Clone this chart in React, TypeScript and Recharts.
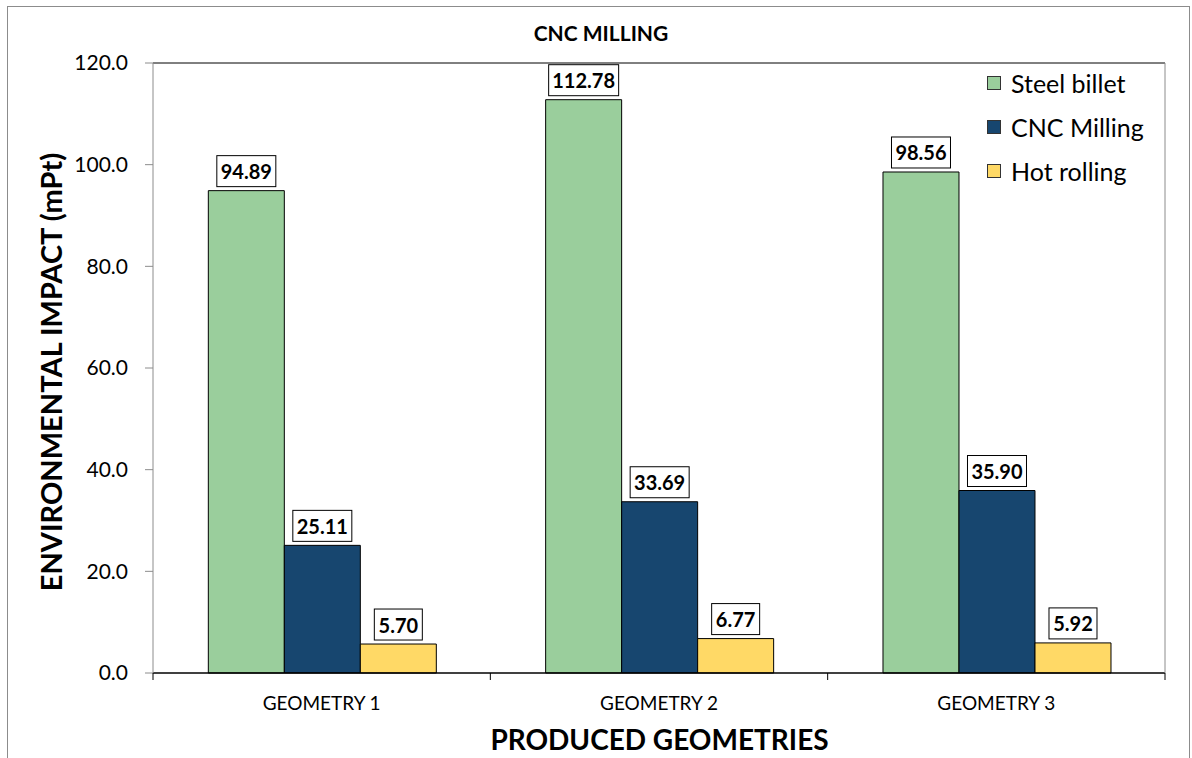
import React from 'react'
import {
  BarChart,
  Bar,
  XAxis,
  YAxis,
  Legend,
  LabelList,
  ReferenceLine,
} from 'recharts'

const categories = ['GEOMETRY 1', 'GEOMETRY 2', 'GEOMETRY 3']
const steelBillet = [94.89, 112.78, 98.56]
const cncMilling = [25.11, 33.69, 35.9]
const hotRolling = [5.7, 6.77, 5.92]
const yTicks = [0, 20, 40, 60, 80, 100, 120]

const SERIES = [
  { key: 'steel', name: 'Steel billet', color: '#9ACE9C' },
  { key: 'cnc', name: 'CNC Milling', color: '#17466F' },
  { key: 'hot', name: 'Hot rolling', color: '#FFD966' },
]

const FONT = 'Lato, "Open Sans", sans-serif'

const data = categories.map((name, i) => ({
  name,
  steel: steelBillet[i],
  cnc: cncMilling[i],
  hot: hotRolling[i],
}))

// boxed value label sitting just above each bar
function BoxLabel(props: any) {
  const { x, y, width, value } = props
  const text = Number(value).toFixed(2)
  const w = text.length * 11 + 4
  const h = 31
  const cx = x + width / 2
  const bottom = y - 4
  return (
    <g>
      <rect x={cx - w / 2} y={bottom - h} width={w} height={h} fill="#fff" stroke="#000" strokeWidth={1} />
      <text
        x={cx}
        y={bottom - h / 2}
        textAnchor="middle"
        dominantBaseline="central"
        fontFamily={FONT}
        fontWeight={700}
        fontSize={20}
        fill="#000"
      >
        {text}
      </text>
    </g>
  )
}

// category label plus tick marks on the band edges
function CategoryTick(props: any) {
  const { x, y, payload, index } = props
  const half = payload.offset || 0
  const axisY = y - 24
  return (
    <g>
      <line x1={x - half} x2={x - half} y1={axisY} y2={axisY + 7} stroke="#000" />
      {index === categories.length - 1 && (
        <line x1={x + half} x2={x + half} y1={axisY} y2={axisY + 7} stroke="#000" />
      )}
      <text x={x} y={y} dy="0.71em" textAnchor="middle" fontFamily={FONT} fontSize={19} fill="#000">
        {payload.value}
      </text>
    </g>
  )
}

function LegendBox() {
  return (
    <div style={{ fontFamily: FONT, fontSize: 25, color: '#000' }}>
      {SERIES.map((s) => (
        <div key={s.key} style={{ display: 'flex', alignItems: 'center', height: 44 }}>
          <span
            style={{
              display: 'inline-block',
              width: 12,
              height: 12,
              background: s.color,
              border: '1px solid #333',
              marginRight: 10,
            }}
          />
          {s.name}
        </div>
      ))}
    </div>
  )
}

export default function App() {
  return (
    <div style={{ position: 'absolute', top: 0, left: 0, width: 1192, height: 758, background: '#fff', overflow: 'hidden' }}>
      <div
        style={{
          position: 'absolute',
          left: 7,
          top: 6,
          width: 1181,
          height: 780,
          border: '1px solid #8c8c8c',
        }}
      />
      <BarChart
        width={1192}
        height={758}
        data={data}
        margin={{ top: 63, right: 26, bottom: 34, left: 73 }}
        barCategoryGap="16.4%"
        barGap={0}
        style={{ position: 'absolute', top: 0, left: 0 }}
      >
        <XAxis
          dataKey="name"
          tickLine={false}
          axisLine={{ stroke: '#000', strokeWidth: 1.5 }}
          tickMargin={18}
          height={51}
          tick={<CategoryTick />}
        />
        <YAxis
          domain={[0, 120]}
          ticks={yTicks}
          width={80}
          tickSize={8}
          tickMargin={17}
          tickFormatter={(v: number) => v.toFixed(1)}
          axisLine={{ stroke: '#8c8c8c' }}
          tickLine={{ stroke: '#8c8c8c' }}
          tick={{ fontFamily: FONT, fontSize: 21, fill: '#000' }}
        />
        <YAxis
          yAxisId="r"
          orientation="right"
          width={1}
          tick={false}
          tickLine={false}
          axisLine={{ stroke: '#8c8c8c' }}
        />
        <ReferenceLine y={120} stroke="#000" strokeWidth={1} />
        <Legend
          content={<LegendBox />}
          layout="horizontal"
          verticalAlign="middle"
          align="center"
          wrapperStyle={{ top: 61, left: 987, width: 200, height: 132 }}
        />
        {SERIES.map((s) => (
          <Bar
            key={s.key}
            dataKey={s.key}
            name={s.name}
            fill={s.color}
            stroke="#000"
            strokeWidth={1}
            isAnimationActive={false}
          >
            <LabelList dataKey={s.key} content={<BoxLabel />} />
          </Bar>
        ))}
      </BarChart>
      <div
        style={{
          position: 'absolute',
          top: 20,
          left: 0,
          width: 1202,
          textAlign: 'center',
          fontFamily: FONT,
          fontWeight: 700,
          fontSize: 21,
          color: '#000',
        }}
      >
        CNC MILLING
      </div>
      <div
        style={{
          position: 'absolute',
          top: 722,
          left: 153,
          width: 1013,
          textAlign: 'center',
          fontFamily: FONT,
          fontWeight: 700,
          fontSize: 28,
          color: '#000',
        }}
      >
        PRODUCED GEOMETRIES
      </div>
      <div
        style={{
          position: 'absolute',
          left: 50,
          top: 372,
          transform: 'translate(-50%, -50%) rotate(-90deg)',
          whiteSpace: 'nowrap',
          fontFamily: FONT,
          fontWeight: 700,
          fontSize: 29,
          color: '#000',
        }}
      >
        ENVIRONMENTAL IMPACT (mPt)
      </div>
    </div>
  )
}
